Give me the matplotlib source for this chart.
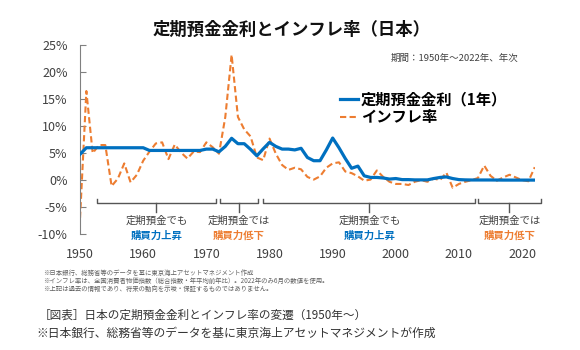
import matplotlib.pyplot as plt

plt.rcParams['font.family'] = ['Noto Sans CJK JP', 'DejaVu Sans']

years = list(range(1950, 2023))

# 定期預金金利（1年）
deposit = [4.8, 6.0, 6.0, 6.0, 6.0, 6.0, 6.0, 6.0, 6.0, 6.0,
           6.0, 5.5, 5.5, 5.5, 5.5, 5.5, 5.5, 5.5, 5.5, 5.5,
           5.75, 5.75, 5.25, 6.25, 7.75, 6.75, 6.75, 5.7, 4.5, 5.8,
           7.0, 6.25, 5.75, 5.75, 5.6, 5.9, 4.2, 3.6, 3.6, 5.6,
           7.8, 6.0, 4.0, 2.2, 2.6, 0.8, 0.5, 0.5, 0.4, 0.2,
           0.3, 0.1, 0.1, 0.05, 0.05, 0.05, 0.3, 0.5, 0.6, 0.3,
           0.1, 0.05, 0.03, 0.03, 0.03, 0.03, 0.02, 0.01, 0.01, 0.01,
           0.01, 0.01, 0.01]

# インフレ率
inflation = [-7.0, 16.5, 5.0, 6.5, 6.5, -1.1, 0.3, 3.1, -0.4, 1.0,
             3.6, 5.3, 6.8, 7.0, 3.9, 6.6, 5.1, 4.0, 5.3, 5.2,
             7.0, 6.1, 4.9, 11.7, 23.2, 11.7, 9.4, 8.1, 4.2, 3.7,
             7.7, 4.9, 2.8, 1.9, 2.3, 2.0, 0.6, 0.1, 0.7, 2.3,
             3.1, 3.3, 1.6, 1.3, 0.7, -0.1, 0.1, 1.8, 0.6, -0.3,
             -0.7, -0.7, -0.9, -0.3, 0.0, -0.3, 0.3, 0.0, 1.4, -1.4,
             -0.7, -0.3, 0.0, 0.4, 2.7, 0.8, -0.1, 0.5, 1.0, 0.5,
             0.0, -0.2, 2.4]

# 期間の括弧と注記
span_start = [1952.7, 1972.1, 1979.0, 2013.0]
span_end = [1971.5, 1978.2, 2012.6, 2023.0]
span_line1 = ['定期預金でも', '定期預金では', '定期預金でも', '定期預金では']
span_line2 = ['購買力上昇', '購買力低下', '購買力上昇', '購買力低下']

blue = '#0070C0'
orange = '#ED7D31'
gray = '#404040'

fig = plt.figure(figsize=(5.8, 3.5), dpi=100)
ax = fig.add_axes([0.138, 0.331, 0.784, 0.54])

ax.plot(years, deposit, color=blue, lw=2.3, label='定期預金金利（1年）', zorder=3)
ax.plot(years, inflation, color=orange, lw=1.5, ls=(0, (3, 1.6)), label='インフレ率', zorder=2)

ax.set_xlim(1950, 2022)
ax.set_ylim(-10, 25)
ax.set_yticks(range(-10, 26, 5))
ax.set_yticklabels([f'{v}%' for v in range(-10, 26, 5)])
ax.set_xticks(range(1950, 2021, 10))
ax.tick_params(axis='y', direction='in', length=4, color='#808080', labelsize=9, labelcolor=gray, pad=9)
ax.tick_params(axis='x', length=0, labelsize=9, labelcolor=gray, pad=10)
for s in ['top', 'right', 'bottom']:
    ax.spines[s].set_visible(False)
ax.spines['left'].set_color('#808080')

# brackets
for s, e, t1, t2 in zip(span_start, span_end, span_line1, span_line2):
    c = (s + e) / 2
    ax.plot([s, s, e, e], [-3.5, -4.3, -4.3, -3.5], color='#555555', lw=1, clip_on=False)
    ax.plot([c, c], [-4.3, -5.9], color='#555555', lw=1, clip_on=False)
    col = blue if '上昇' in t2 else orange
    ax.text(c, -7.6, t1, ha='center', va='center', fontsize=7.5, color=gray)
    ax.text(c, -10.3, t2, ha='center', va='center', fontsize=7.5, color=col, fontweight='bold')

fig.text(0.503, 0.914, '定期預金金利とインフレ率（日本）', ha='center', va='center',
         fontsize=12.5, fontweight='bold', color='#111111')
fig.text(0.893, 0.834, '期間：1950年～2022年、年次', ha='right', va='center', fontsize=6.8, color=gray)

leg = fig.legend(loc='upper left', bbox_to_anchor=(0.575, 0.757), frameon=False,
                 handlelength=1.2, handletextpad=0.2, labelspacing=0.15, borderaxespad=0,
                 prop={'size': 11, 'weight': 'bold'})

notes = ['※日本銀行、総務省等のデータを基に東京海上アセットマネジメント作成',
         '※インフレ率は、全国消費者物価指数（総合指数・年平均前年比）。2022年のみ6月の数値を使用。',
         '※上記は過去の情報であり、将来の動向を示唆・保証するものではありません。']
for i, n in enumerate(notes):
    fig.text(0.074, 1 - (273 + i * 8) / 350, n, ha='left', va='center', fontsize=4.6, color='#606060')

fig.text(0.067, 1 - 315 / 350, '［図表］日本の定期預金金利とインフレ率の変遷（1950年～）', ha='left', va='center',
         fontsize=8.4, color='#333333')
fig.text(0.062, 1 - 333 / 350, '※日本銀行、総務省等のデータを基に東京海上アセットマネジメントが作成', ha='left', va='center',
         fontsize=8.5, color='#333333')

fig.savefig('out.png', dpi=100)
